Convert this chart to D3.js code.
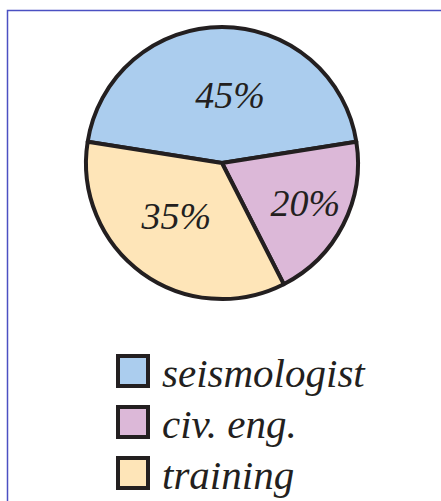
<!DOCTYPE html>
<html>
<head>
<meta charset="utf-8">
<script src="https://cdn.jsdelivr.net/npm/d3@7"></script>
<style>
  html, body { margin: 0; padding: 0; background: #fff; }
  svg { display: block; }
</style>
</head>
<body>
<script>
"use strict";

const categories = ["seismologist", "civ. eng.", "training"];
const shares = [45, 20, 35];
const pctLabels = ["45%", "20%", "35%"];
const colors = ["#abcdee", "#dcb8d8", "#fee5b8"];

const W = 441, H = 501;
const cx = 222, cy = 163, r = 136;
const ink = "#231f20";
const font = "'Liberation Serif', serif";

const svg = d3.select("body").append("svg")
  .attr("width", W).attr("height", H)
  .attr("viewBox", `0 0 ${W} ${H}`);

// frame: only top and left edges show
svg.append("path")
  .attr("d", `M7.5,${H} V10.5 H${W}`)
  .attr("fill", "none")
  .attr("stroke", "#4b50c2")
  .attr("stroke-width", 1.5);

const data = categories.map((c, i) => ({cat: c, value: shares[i], label: pctLabels[i], color: colors[i]}));

// seismologist slice sits centred on the top
const start = -Math.PI * shares[0] / 100;
const pie = d3.pie().sort(null).value(d => d.value)
  .startAngle(start).endAngle(start + 2 * Math.PI);
const arcs = pie(data);
const arc = d3.arc().innerRadius(0).outerRadius(r);

const g = svg.append("g").attr("transform", `translate(${cx},${cy})`);

g.selectAll("path.slice")
  .data(arcs)
  .enter()
  .append("path")
  .attr("class", "slice")
  .attr("d", arc)
  .attr("fill", d => d.data.color)
  .attr("stroke", ink)
  .attr("stroke-width", 4)
  .attr("stroke-linejoin", "round");

// label radius and small nudge per slice, tuned by eye
const labelPos = {
  "seismologist": {r: 68, dx: 8, dy: 0},
  "civ. eng.":    {r: 88, dx: 5, dy: 0},
  "training":     {r: 69, dx: -5, dy: -3}
};
g.selectAll("text.pct")
  .data(arcs)
  .enter()
  .append("text")
  .attr("class", "pct")
  .attr("transform", d => {
    const a = (d.startAngle + d.endAngle) / 2;
    const p = labelPos[d.data.cat];
    return `translate(${Math.sin(a) * p.r + p.dx},${-Math.cos(a) * p.r + p.dy})`;
  })
  .attr("text-anchor", "middle")
  .attr("dy", "0.35em")
  .attr("font-family", font)
  .attr("font-style", "italic")
  .attr("font-size", 38)
  .attr("fill", ink)
  .text(d => d.data.label);

// legend
const legend = svg.append("g").attr("transform", "translate(118,356)");
const rows = legend.selectAll("g.row")
  .data(data)
  .enter()
  .append("g")
  .attr("class", "row")
  .attr("transform", (d, i) => `translate(0,${i * 51})`);

rows.append("rect")
  .attr("width", 30).attr("height", 30)
  .attr("fill", d => d.color)
  .attr("stroke", ink)
  .attr("stroke-width", 4);

rows.append("text")
  .attr("x", 44).attr("y", 31)
  .attr("font-family", font)
  .attr("font-style", "italic")
  .attr("font-size", 41)
  .attr("fill", ink)
  .text(d => d.cat);
</script>
</body>
</html>
